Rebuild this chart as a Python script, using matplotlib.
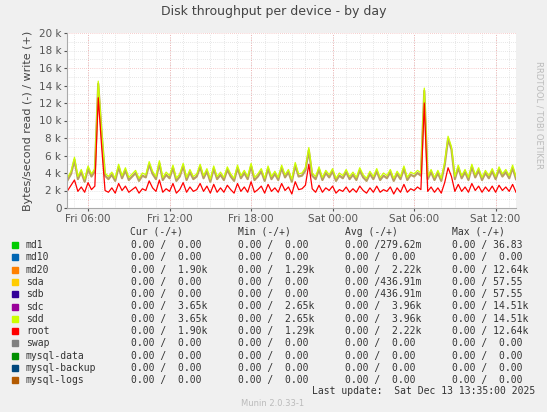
import numpy as np
import matplotlib
matplotlib.use("Agg")
import matplotlib.pyplot as plt

# write throughput (kB/s), 15-minute samples from Fri 04:30 to Sat 13:30
sdd_write = [3.5, 4.2, 5.8, 3.6, 4.4, 3.3, 4.8, 3.9, 4.5, 14.5, 8.8, 4.0, 3.6, 4.1, 3.4, 5.0, 3.7,
             4.6, 3.5, 3.9, 4.3, 3.4, 4.0, 3.8, 5.3, 4.2, 3.6, 5.4, 3.5, 4.1, 3.7, 4.9, 3.4, 3.9,
             5.1, 3.5, 4.4, 3.6, 3.9, 5.0, 3.7, 4.5, 3.3, 4.8, 3.6, 4.1, 3.5, 4.7, 3.9, 3.4, 4.9,
             3.7, 4.3, 3.6, 5.1, 3.5, 3.9, 4.5, 3.4, 4.8, 3.6, 4.2, 3.5, 4.9, 3.8, 4.4, 3.3, 5.2,
             3.9, 4.0, 4.6, 6.9, 4.0, 3.6, 4.7, 3.5, 4.3, 3.8, 4.5, 3.4, 4.0, 3.7, 4.4, 3.6, 4.1,
             3.5, 4.6, 3.8, 3.4, 4.2, 3.6, 4.5, 3.5, 4.0, 3.7, 4.4, 3.4, 4.2, 3.6, 4.8, 3.5, 4.1,
             3.9, 4.3, 4.0, 13.7, 3.6, 4.4, 3.5, 4.3, 3.4, 5.2, 8.2, 7.0, 3.6, 4.9, 3.7, 4.4, 3.5,
             5.0, 3.8, 4.6, 3.5, 4.3, 3.7, 4.5, 3.6, 4.7, 3.9, 4.4, 3.7, 4.9, 3.6]
sdc_write = [v - 0.3 for v in sdd_write]
root_write = [2.0, 2.6, 3.2, 1.9, 2.4, 1.8, 2.9, 2.1, 2.5, 12.6, 7.0, 2.0, 1.8, 2.3, 1.7, 2.8, 2.0,
              2.5, 1.8, 2.1, 2.4, 1.7, 2.2, 2.0, 3.1, 2.3, 1.9, 3.2, 1.8, 2.2, 1.9, 2.8, 1.7, 2.1,
              2.9, 1.8, 2.4, 1.9, 2.1, 2.8, 1.9, 2.5, 1.7, 2.7, 1.8, 2.3, 1.8, 2.6, 2.1, 1.7, 2.8,
              1.9, 2.4, 1.8, 3.0, 1.8, 2.1, 2.5, 1.7, 2.7, 1.9, 2.3, 1.8, 2.8, 2.0, 2.4, 1.6, 3.0,
              2.1, 2.2, 2.6, 5.0, 2.2, 1.8, 2.6, 1.8, 2.3, 2.0, 2.5, 1.7, 2.1, 1.9, 2.4, 1.8, 2.2,
              1.8, 2.5, 2.0, 1.7, 2.3, 1.8, 2.5, 1.8, 2.1, 1.9, 2.4, 1.6, 2.3, 1.8, 2.7, 1.8, 2.2,
              2.0, 2.4, 2.1, 12.0, 1.9, 2.4, 1.8, 2.3, 1.7, 2.9, 4.6, 3.6, 1.9, 2.7, 1.9, 2.4, 1.8,
              2.8, 2.0, 2.5, 1.8, 2.4, 1.9, 2.5, 1.8, 2.6, 2.0, 2.4, 1.9, 2.7, 1.8]
hours = 4.5 + 0.25 * np.arange(len(sdd_write))

xtick_pos = [6, 12, 18, 24, 30, 36]
xtick_labels = ["Fri 06:00", "Fri 12:00", "Fri 18:00", "Sat 00:00", "Sat 06:00", "Sat 12:00"]

names = ["md1", "md10", "md20", "sda", "sdb", "sdc", "sdd", "root", "swap",
         "mysql-data", "mysql-backup", "mysql-logs"]
colors = ["#00cc00", "#0066b3", "#ff8000", "#ffcc00", "#330099", "#990099", "#ccff00",
          "#ff0000", "#808080", "#008f00", "#00487d", "#b35a00"]
cur = ["0.00 /  0.00", "0.00 /  0.00", "0.00 /  1.90k", "0.00 /  0.00", "0.00 /  0.00",
       "0.00 /  3.65k", "0.00 /  3.65k", "0.00 /  1.90k", "0.00 /  0.00", "0.00 /  0.00",
       "0.00 /  0.00", "0.00 /  0.00"]
mins = ["0.00 /  0.00", "0.00 /  0.00", "0.00 /  1.29k", "0.00 /  0.00", "0.00 /  0.00",
        "0.00 /  2.65k", "0.00 /  2.65k", "0.00 /  1.29k", "0.00 /  0.00", "0.00 /  0.00",
        "0.00 /  0.00", "0.00 /  0.00"]
avgs = ["0.00 /279.62m", "0.00 /  0.00", "0.00 /  2.22k", "0.00 /436.91m", "0.00 /436.91m",
        "0.00 /  3.96k", "0.00 /  3.96k", "0.00 /  2.22k", "0.00 /  0.00", "0.00 /  0.00",
        "0.00 /  0.00", "0.00 /  0.00"]
maxs = ["0.00 / 36.83", "0.00 /  0.00", "0.00 / 12.64k", "0.00 / 57.55", "0.00 / 57.55",
        "0.00 / 14.51k", "0.00 / 14.51k", "0.00 / 12.64k", "0.00 /  0.00", "0.00 /  0.00",
        "0.00 /  0.00", "0.00 /  0.00"]

W, H = 547, 412
fig = plt.figure(figsize=(W / 100, H / 100), dpi=100, facecolor="#f0f0f0")
ax = fig.add_axes([67 / W, 1 - 208 / H, (516 - 67) / W, 175 / H], facecolor="white")

ax.plot(hours, sdc_write, color="#b8a060", lw=1.6)
ax.plot(hours, sdd_write, color="#ccff00", lw=0.9)
ax.plot(hours, root_write, color="#ff0000", lw=0.9)

ax.set_xlim(4.45, 37.5)
ax.set_ylim(0, 20)
for h in np.arange(5, 38):
    ax.axvline(h, color="#d0d0d0", lw=0.5, ls=(0, (1, 2)), zorder=0)
for h in xtick_pos:
    ax.axvline(h, color="#f0a0a0", lw=0.6, ls=(0, (1, 2)), zorder=0)
for y in range(1, 21):
    c = "#f0a0a0" if y % 4 == 0 else "#d0d0d0"
    ax.axhline(y, color=c, lw=0.5, ls=(0, (1, 2)), zorder=0)

ax.set_xticks(xtick_pos)
ax.set_xticklabels(xtick_labels)
ax.set_yticks(range(0, 21, 2))
ax.set_yticklabels(["0"] + [f"{v} k" for v in range(2, 21, 2)])
ax.tick_params(labelsize=7.5, colors="#555555", length=2, pad=2)
for s in ["top", "right"]:
    ax.spines[s].set_visible(False)
for s in ["left", "bottom"]:
    ax.spines[s].set_color("#aaaaaa")
ax.set_ylabel("Bytes/second read (-) / write (+)", fontsize=8, color="#444444")

fig.text(0.5, 1 - 11 / H, "Disk throughput per device - by day", ha="center", va="center",
         fontsize=9, color="#444444")
fig.text(539 / W, 1 - 115 / H, "RRDTOOL / TOBI OETIKER", rotation=270, ha="center", va="center",
         fontsize=6, color="#bbbbbb")

mono = dict(family="DejaVu Sans Mono", fontsize=7, color="#333333", va="center")
y0 = 232
fig.text(130 / W, 1 - y0 / H, "Cur (-/+)", **mono)
fig.text(238 / W, 1 - y0 / H, "Min (-/+)", **mono)
fig.text(345 / W, 1 - y0 / H, "Avg (-/+)", **mono)
fig.text(452 / W, 1 - y0 / H, "Max (-/+)", **mono)
for i, nm in enumerate(names):
    y = 1 - (245 + i * 12.3) / H
    fig.patches.append(plt.Rectangle((12 / W, y - 3 / H), 6 / W, 6 / H, color=colors[i],
                                     transform=fig.transFigure, figure=fig))
    fig.text(26 / W, y, nm, **mono)
    fig.text(131 / W, y, cur[i], **mono)
    fig.text(238 / W, y, mins[i], **mono)
    fig.text(345 / W, y, avgs[i], **mono)
    fig.text(452 / W, y, maxs[i], **mono)
fig.text(312 / W, 1 - 391 / H, "Last update:  Sat Dec 13 13:35:00 2025", **mono)
fig.text(273 / W, 1 - 404 / H, "Munin 2.0.33-1", ha="center", va="center", fontsize=6,
         color="#bbbbbb")

fig.savefig("out.png", dpi=100, facecolor=fig.get_facecolor())
